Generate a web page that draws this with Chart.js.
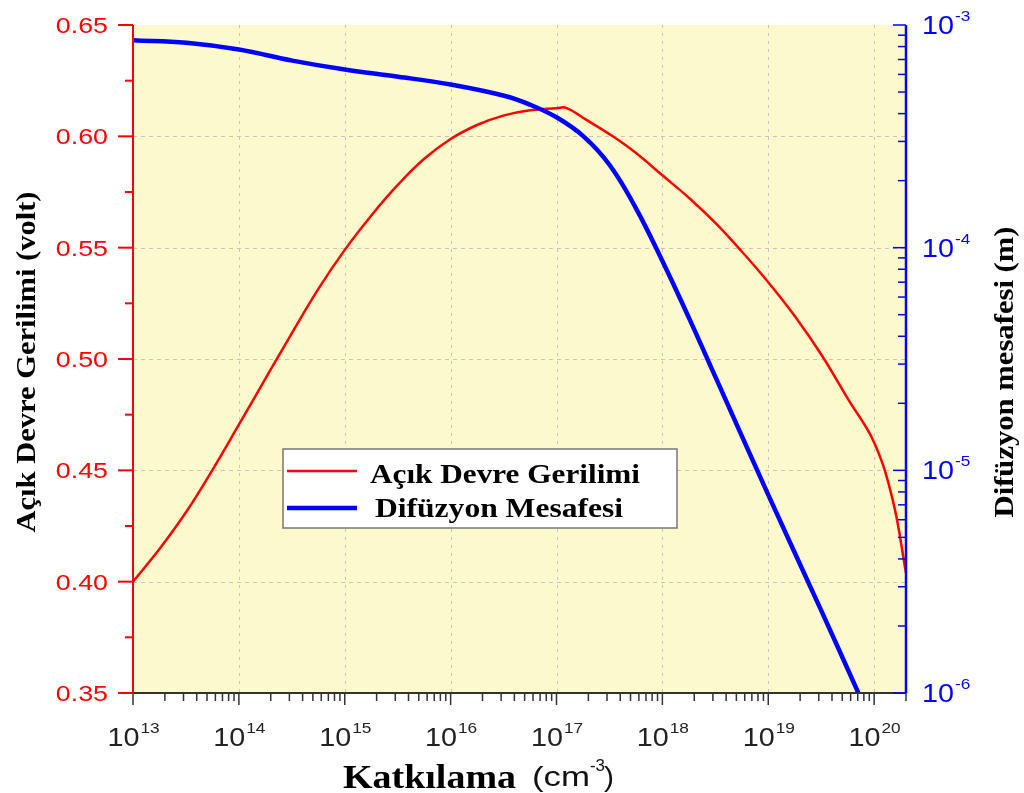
<!DOCTYPE html>
<html>
<head>
<meta charset="utf-8">
<script src="https://cdn.jsdelivr.net/npm/chart.js@4.4.1/dist/chart.umd.min.js"></script>
<style>
  html, body { margin: 0; padding: 0; background: #fff; }
  #wrap { width: 1024px; height: 793px; position: relative; }
</style>
</head>
<body>
<div id="wrap"><canvas id="grafik"></canvas></div>
<script>
// Açık devre gerilimi (volt) - katkılama (cm^-3)
var katkiV = [1e13, 1.8e13, 3.2e13, 5.6e13, 1e14, 1.8e14, 3.2e14, 5.6e14, 1e15, 1.8e15, 3.2e15, 5.6e15,
              1e16, 1.8e16, 3.2e16, 5.6e16, 1e17, 1.23e17, 1.9e17, 3.4e17, 5.6e17, 1e18, 1.8e18, 3.2e18,
              5.6e18, 1e19, 1.8e19, 3.2e19, 5.6e19, 1e20, 1.5e20, 2e20];
var gerilim = [0.400, 0.415, 0.4315, 0.450, 0.4705, 0.4915, 0.512, 0.5313, 0.549, 0.5647, 0.5784, 0.5898,
               0.5988, 0.6052, 0.6094, 0.6117, 0.6126, 0.6128, 0.6075, 0.600, 0.5926, 0.5825, 0.5722, 0.5609,
               0.5484, 0.5345, 0.519, 0.5017, 0.4824, 0.4625, 0.4366, 0.404];

// Difüzyon mesafesi (m) - katkılama (cm^-3)
var katkiL = [1e13, 3.2e13, 1e14, 3.2e14, 1e15, 3.2e15, 1e16, 3.2e16, 5.6e16, 1e17, 1.8e17, 3.2e17, 5.6e17,
              1e18, 1.8e18, 3.2e18, 1e19, 3.2e19, 7.1e19];
var mesafe = [8.55e-4, 8.32e-4, 7.76e-4, 6.92e-4, 6.31e-4, 5.86e-4, 5.40e-4, 4.81e-4, 4.39e-4, 3.85e-4, 3.16e-4,
              2.34e-4, 1.51e-4, 8.71e-5, 4.79e-5, 2.60e-5, 7.76e-6, 2.32e-6, 1.0e-6];

// eksen işaretleri
var xUsler = [13, 14, 15, 16, 17, 18, 19, 20];
var vTikler = [0.35, 0.40, 0.45, 0.50, 0.55, 0.60, 0.65];
var lUsler = [-6, -5, -4, -3];

var SERIF = '"Liberation Serif", "Times New Roman", serif';
var SANS = '"Liberation Sans", Arial, sans-serif';
var KIRMIZI = '#ff0000';
var MAVI = '#0000ff';

// yazıyı yatayda ölçekleyerek (ya da verilen genişliğe sığdırarak) çizer
function yazi(ctx, text, x, y, font, color, align, sx, rot, genislik) {
  ctx.save();
  ctx.translate(x, y);
  if (rot) ctx.rotate(rot);
  ctx.font = font;
  var s = sx || 1;
  if (genislik) s = genislik / ctx.measureText(text).width;
  ctx.scale(s, 1);
  ctx.fillStyle = color;
  ctx.textAlign = align || 'left';
  ctx.textBaseline = 'alphabetic';
  ctx.fillText(text, 0, 0);
  ctx.restore();
}

// 10 üzeri n biçiminde etiket
function usEtiket(ctx, us, x, y, color, align) {
  var sx = 1.15;
  ctx.font = '25px ' + SANS;
  var w1 = ctx.measureText('10').width * sx;
  ctx.font = '15px ' + SANS;
  var w2 = ctx.measureText(String(us)).width * sx;
  var x0 = align === 'center' ? x - (w1 + w2) / 2 : x;
  yazi(ctx, '10', x0, y, '25px ' + SANS, color, 'left', sx);
  yazi(ctx, String(us), x0 + w1 + 1, y - 13, '15px ' + SANS, color, 'left', sx);
}

function cizgi(ctx, x1, y1, x2, y2) {
  ctx.beginPath();
  ctx.moveTo(x1, y1);
  ctx.lineTo(x2, y2);
  ctx.stroke();
}

var cerceve = {
  id: 'cerceve',
  beforeDatasetsDraw: function (chart) {
    var ctx = chart.ctx, a = chart.chartArea;
    var sx = chart.scales.x, sy = chart.scales.y;
    ctx.save();
    ctx.fillStyle = '#fcfacd';
    ctx.fillRect(a.left, a.top, a.right - a.left, a.bottom - a.top);
    ctx.strokeStyle = 'rgba(215, 180, 185, 0.9)';
    ctx.lineWidth = 1;
    ctx.setLineDash([4, 4]);
    vTikler.slice(1, -1).forEach(function (v) {
      var py = Math.round(sy.getPixelForValue(v)) + 0.5;
      cizgi(ctx, a.left, py, a.right, py);
    });
    ctx.strokeStyle = 'rgba(200, 185, 190, 0.9)';
    ctx.setLineDash([3, 5]);
    xUsler.slice(1).forEach(function (u) {
      var px = Math.round(sx.getPixelForValue(Math.pow(10, u))) + 0.5;
      cizgi(ctx, px, a.top, px, a.bottom);
    });
    ctx.restore();
  },
  afterDatasetsDraw: function (chart) {
    var ctx = chart.ctx, a = chart.chartArea;
    var sx = chart.scales.x, sy = chart.scales.y, sl = chart.scales.y1;
    ctx.save();
    ctx.setLineDash([]);

    // alt eksen
    ctx.strokeStyle = '#333';
    ctx.lineWidth = 2;
    cizgi(ctx, a.left, a.bottom, a.right, a.bottom);
    ctx.lineWidth = 1.5;
    for (var u = 13; u <= 20; u++) {
      for (var m = 1; m <= 9; m++) {
        var v = m * Math.pow(10, u);
        if (v > sx.max * 1.001) break;
        var px = sx.getPixelForValue(v);
        cizgi(ctx, px, a.bottom, px, a.bottom + (m === 1 ? 12 : 8));
      }
    }
    xUsler.forEach(function (u) {
      usEtiket(ctx, u, sx.getPixelForValue(Math.pow(10, u)), 746, '#222', 'center');
    });

    // sol eksen (gerilim)
    ctx.strokeStyle = KIRMIZI;
    ctx.lineWidth = 2;
    cizgi(ctx, a.left, a.top, a.left, a.bottom);
    for (var k = 0; k <= 12; k++) {
      var vv = 0.35 + k * 0.025;
      var py = sy.getPixelForValue(vv);
      cizgi(ctx, a.left - (k % 2 === 0 ? 15 : 8), py, a.left, py);
    }
    vTikler.forEach(function (v) {
      yazi(ctx, v.toFixed(2), 108, sy.getPixelForValue(v) + 8, '22px ' + SANS, KIRMIZI, 'right', 1.22);
    });

    // sağ eksen (difüzyon mesafesi)
    ctx.strokeStyle = MAVI;
    ctx.lineWidth = 2.5;
    cizgi(ctx, a.right, a.top, a.right, a.bottom);
    ctx.lineWidth = 1.5;
    for (var e = -6; e <= -3; e++) {
      for (var n = 1; n <= 9; n++) {
        var lv = n * Math.pow(10, e);
        if (lv > sl.max * 1.001) break;
        var ly = sl.getPixelForValue(lv);
        cizgi(ctx, a.right - (n === 1 ? 13 : 8), ly, a.right, ly);
      }
    }
    lUsler.forEach(function (u) {
      usEtiket(ctx, u, 922, sl.getPixelForValue(Math.pow(10, u)) + 9, MAVI, 'left');
    });

    // eksen başlıkları
    yazi(ctx, 'Açık Devre Gerilimi (volt)', 35, 362, 'bold 28px ' + SERIF, '#000', 'center', 1, -Math.PI / 2, 341);
    yazi(ctx, 'Difüzyon mesafesi (m)', 1013, 372, 'bold 28px ' + SERIF, '#000', 'center', 1, -Math.PI / 2, 291);
    yazi(ctx, 'Katkılama', 343, 788, 'bold 34px ' + SERIF, '#000', 'left', 1, 0, 173);
    yazi(ctx, '(cm', 532, 786, '28px ' + SANS, '#111', 'left', 1, 0, 58);
    yazi(ctx, '-3', 590, 771, '16px ' + SANS, '#111', 'left', 1, 0, 15);
    yazi(ctx, ')', 604, 786, '28px ' + SANS, '#111', 'left', 1, 0, 10);

    // açıklama kutusu
    ctx.fillStyle = '#fff';
    ctx.fillRect(283, 449, 394, 79);
    ctx.strokeStyle = '#777';
    ctx.lineWidth = 1.5;
    ctx.strokeRect(283, 449, 394, 79);
    var ds = chart.data.datasets;
    var satirlar = [
      { y: 471, tx: 370, ty: 483, w: 270 },
      { y: 508, tx: 375, ty: 517, w: 248 }
    ];
    satirlar.forEach(function (s, i) {
      ctx.strokeStyle = ds[i].borderColor;
      ctx.lineWidth = ds[i].borderWidth;
      cizgi(ctx, 287, s.y, 357, s.y);
      yazi(ctx, ds[i].label, s.tx, s.ty, 'bold 27px ' + SERIF, '#000', 'left', 1, 0, s.w);
    });
    ctx.restore();
  }
};

var ctx1 = document.getElementById('grafik').getContext('2d');
var grafik = new Chart(ctx1, {
  type: 'line',
  data: {
    datasets: [{
      label: 'Açık Devre Gerilimi',
      data: katkiV.map(function (k, i) { return { x: k, y: gerilim[i] }; }),
      yAxisID: 'y',
      borderColor: KIRMIZI,
      borderWidth: 2.5,
      pointRadius: 0,
      tension: 0.4,
      fill: false,
      order: 1
    }, {
      label: 'Difüzyon Mesafesi',
      data: katkiL.map(function (k, i) { return { x: k, y: mesafe[i] }; }),
      yAxisID: 'y1',
      borderColor: MAVI,
      borderWidth: 4.5,
      pointRadius: 0,
      tension: 0.4,
      fill: false,
      order: 0
    }]
  },
  options: {
    responsive: true,
    maintainAspectRatio: false,
    animation: false,
    layout: { padding: { top: 25, left: 0, right: 0, bottom: 0 } },
    plugins: { legend: { display: false }, tooltip: { enabled: false } },
    scales: {
      x: {
        type: 'logarithmic', min: 1e13, max: 2e20,
        ticks: { display: false }, grid: { display: false }, border: { display: false },
        afterFit: function (s) { s.height = 100; }
      },
      y: {
        type: 'linear', position: 'left', min: 0.35, max: 0.65,
        ticks: { display: false }, grid: { display: false }, border: { display: false },
        afterFit: function (s) { s.width = 133; }
      },
      y1: {
        type: 'logarithmic', position: 'right', min: 1e-6, max: 1e-3,
        ticks: { display: false }, grid: { display: false }, border: { display: false },
        afterFit: function (s) { s.width = 118; }
      }
    }
  },
  plugins: [cerceve]
});
</script>
</body>
</html>
